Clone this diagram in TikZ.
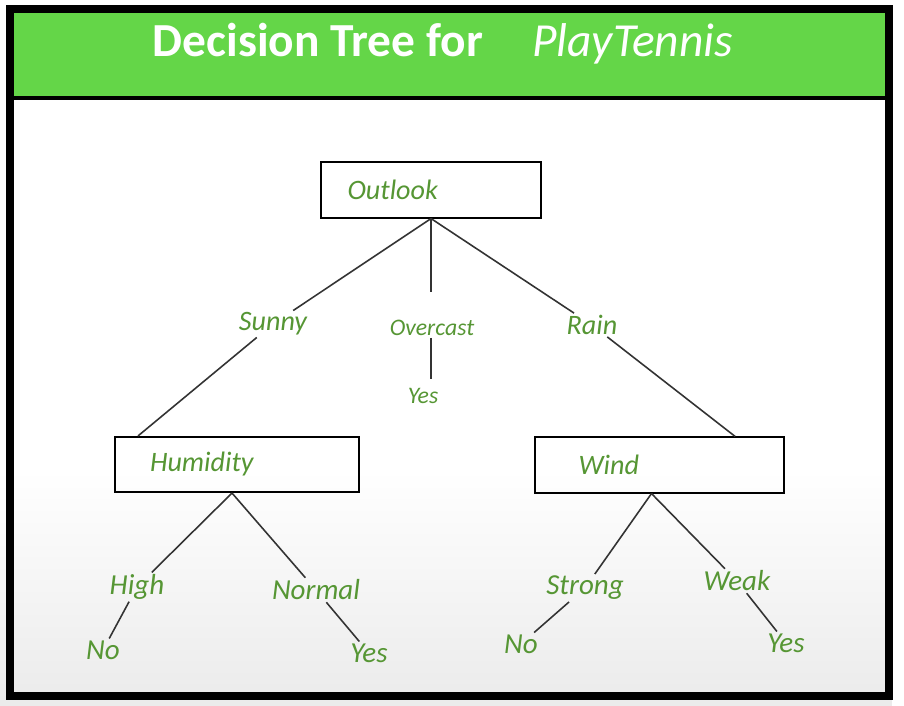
\documentclass[tikz,border=0pt]{standalone}
\usepackage{fontspec}
\setmainfont{Carlito}
\usepackage{tikz}
\usetikzlibrary{positioning, calc}

\definecolor{bannergreen}{RGB}{100,214,72}
\definecolor{textgreen}{RGB}{86,150,52}

\tikzstyle{box} = [draw, line width=1pt, align=left, minimum height=31.5pt, inner ysep=0pt, font=\fontsize{16}{18}\selectfont\itshape, text=textgreen]
\tikzstyle{branch} = [inner sep=1pt, font=\fontsize{16}{18}\selectfont\itshape, text=textgreen]
\tikzstyle{small} = [inner sep=1pt, font=\fontsize{13.5}{16}\selectfont\itshape, text=textgreen]
\tikzstyle{leaf} = [inner sep=1pt, font=\fontsize{16.5}{19}\selectfont\itshape, text=textgreen]
\tikzstyle{edge} = [line width=0.9pt, black!80]

\begin{document}
\begin{tikzpicture}[x=0.02cm, y=-0.02cm]

\useasboundingbox (0, 0) rectangle (904, 706);

% Background and frame
\fill [white] (0, 0) rectangle (904, 706);
\shade [top color=white, bottom color=black!8] (0, 470) rectangle (904, 706);
\fill [white] (892, 470) rectangle (904, 706);
\fill [bannergreen] (10, 9) rectangle (889, 98);
\draw [line width=2pt] (10, 98) -- (889, 98);
\draw [line width=4pt] (10, 9) rectangle (889, 696);

\node [text=white, font=\fontsize{27}{30}\selectfont] (title) at (443, 44)
  {\textbf{Decision Tree for}\hspace{28pt}\textit{PlayTennis}};

% Decision nodes
\node [box, text width=95pt, inner xsep=15pt] (outlook) at (431, 190) {Outlook};
\node [box, text width=99pt, inner xsep=20pt] (humidity) at (237, 464.5) {Humidity};
\node [box, text width=92pt, inner xsep=25pt] (wind) at (659.5, 465) {Wind};

% Outlook branches
\node [branch] (sunny) at (273, 324) {Sunny};
\node [small] (overcast) at (432, 328) {Overcast};
\node [small] (yes1) at (423, 396) {Yes};
\node [branch] (rain) at (592, 325) {Rain};

\draw [edge] (outlook.south) -- (sunny);
\draw [edge] (sunny) -- ($(humidity.north west)+(24, 0)$);
\draw [edge, shorten >=15pt] (outlook.south) -- (outlook.south |- overcast.north);
\draw [edge, shorten >=4pt] (outlook.south |- overcast.south) -- (outlook.south |- yes1.north);
\draw [edge] (outlook.south) -- (rain);
\draw [edge] (rain) -- ($(wind.north east)+(-50, 0)$);

% Humidity branches
\node [leaf] (high) at (137, 587) {High};
\node [leaf] (no1) at (103, 650) {No};
\node [leaf] (normal) at (316, 590) {Normal};
\node [leaf] (yes2) at (369, 653) {Yes};

\draw [edge] ($(humidity.south)+(-5, 0)$) -- (high);
\draw [edge] (high) -- (no1);
\draw [edge] ($(humidity.south)+(-5, 0)$) -- (normal);
\draw [edge] (normal) -- (yes2);

% Wind branches
\node [leaf] (strong) at (585, 588) {Strong};
\node [leaf] (no2) at (521, 644) {No};
\node [leaf] (weak) at (737, 581) {Weak};
\node [leaf] (yes3) at (786, 643) {Yes};

\draw [edge] ($(wind.south)+(-8, 0)$) -- (strong);
\draw [edge] (strong) -- (no2);
\draw [edge] ($(wind.south)+(-8, 0)$) -- (weak);
\draw [edge] (weak) -- (yes3);

\end{tikzpicture}
\end{document}
